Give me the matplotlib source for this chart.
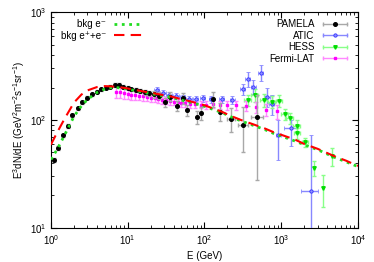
import matplotlib
matplotlib.use('Agg')
import matplotlib.pyplot as plt
from matplotlib.lines import Line2D
from matplotlib.legend_handler import HandlerLine2D, HandlerTuple

# background model curves
bkg_E = [1, 1.2, 1.5, 2, 2.5, 3, 4, 5, 6, 7, 8, 10, 14, 20, 28, 37, 50, 70, 100,
         170, 215, 300, 400, 600, 800, 1000, 1500, 2000, 3000, 5000, 7000, 10000]
bkg_e = [43, 53, 72, 108, 135, 155, 180, 193, 199, 200, 198, 193, 184, 176, 168, 162,
         153, 144, 134, 117, 108, 98, 91, 82, 75, 71, 64, 59, 53, 45, 41, 37]
bkg_ep = [59, 76, 102, 145, 172, 188, 202, 206, 205, 203, 201, 196, 187, 179, 171, 165,
          156, 147, 137, 119, 110, 100, 93, 84, 77, 73, 66, 60, 54, 46, 42, 37.5]

# PAMELA
pam_E = [1.1, 1.25, 1.45, 1.67, 1.86, 2.23, 2.56, 2.97, 3.45, 3.94, 4.48, 5.16, 5.93,
         6.8, 7.76, 8.74, 9.97, 11.2, 12.8, 14.7, 16.8, 19.1, 21.9, 25.5, 30.5, 36, 44,
         53, 60, 79, 91, 130, 162, 225, 318, 490]
pam_F = [42.6, 55, 72, 88, 111, 128, 146, 161, 173, 183, 192, 199, 203, 211, 211, 203,
         199, 193, 190, 185, 181, 177, 173, 168, 146, 165, 136, 160, 123, 106, 115, 155,
         119, 102, 89, 106]
pam_lo = [1.5, 2, 2.5, 3, 3.5, 4, 4.5, 5, 5, 6, 6, 6, 6, 7, 7, 7, 7, 7, 8, 8, 9, 10, 12,
          13, 13, 15, 14, 18, 14, 14, 16, 24, 22, 24, 38, 78]
pam_hi = [1.5, 2, 2.5, 3, 3.5, 4, 4.5, 5, 5, 6, 6, 6, 6, 7, 7, 7, 7, 7, 8, 8, 9, 10, 12,
          13, 13, 15, 14, 18, 14, 14, 16, 26, 24, 26, 44, 65]
pam_xerr = [0, 0, 0, 0, 0, 0, 0, 0, 0, 0, 0, 0, 0, 0, 0, 0, 0, 0, 0, 0, 0, 0, 0, 0, 0, 0,
            0, 0, 0, 0, 0, 0, 0, 25, 48, 90]

# ATIC
atic_E = [23.8, 29, 35, 43, 52, 63, 77, 95, 123, 168, 232, 318, 370, 435, 539, 660, 751,
          920, 1340, 2440]
atic_F = [191, 178, 172, 166, 162, 158, 156, 159, 155, 155, 153, 192, 238, 203, 271, 164,
          140, 73, 85, 22]
atic_lo = [12, 11, 11, 10, 10, 10, 10, 11, 11, 12, 13, 22, 35, 28, 43, 33, 28, 30, 28, 21.9]
atic_hi = [12, 11, 11, 10, 10, 10, 10, 11, 11, 12, 13, 24, 42, 30, 54, 36, 30, 27, 15, 51]
atic_xerr = [2, 2.5, 3, 3.5, 4, 5, 6, 7, 9, 12, 17, 24, 28, 33, 40, 50, 55, 70, 250, 600]

# HESS
hess_E = [370, 455, 594, 751, 938, 1110, 1290, 1590, 1620, 2050, 2680, 3480, 4600]
hess_F = [153, 170, 153, 148, 151, 113, 104, 88, 75, 62, 36, 23.3, 46]
hess_err = [18, 22, 20, 18, 20, 14, 12, 11, 9, 6, 5.5, 7.6, 8.5]
hess_xerr = [40, 50, 60, 75, 90, 110, 130, 160, 160, 200, 0, 0, 0]

# Fermi-LAT
fermi_E = [7.0, 7.9, 8.9, 10, 11.2, 12.6, 14.1, 15.9, 17.8, 20, 22.4, 25.1, 28.2, 31.6,
           35.5, 39.8, 44.7, 50.1, 56.2, 64.6, 75, 89, 105, 130, 160, 195, 260, 352, 475,
           630, 870]
fermi_F = [183, 180, 177, 175, 172, 170, 168, 166, 164, 161, 159, 157, 154, 152, 150, 148,
           146, 144, 143, 140, 140, 139, 139, 141, 139, 138, 137, 135, 131, 124, 120]
fermi_err = [22, 21, 20, 19, 18, 17, 16, 15, 14, 13, 13, 12, 12, 11, 11, 11, 11, 11, 11,
             11, 11, 11, 12, 12, 12, 13, 13, 14, 15, 16, 18]

plt.rcParams['font.family'] = ['Liberation Sans', 'DejaVu Sans']
plt.rcParams['mathtext.fontset'] = 'custom'
plt.rcParams['mathtext.rm'] = 'Liberation Sans'

fig = plt.figure(figsize=(3.74, 2.62), dpi=100)
ax = fig.add_axes([0.136, 0.130, 0.821, 0.824])

ax.errorbar(pam_E, pam_F, yerr=[pam_lo, pam_hi], xerr=pam_xerr, fmt='o', color='k',
            ms=2.6, ecolor='#a8a8a8', elinewidth=1, capsize=1.5, zorder=4)
ax.errorbar(atic_E, atic_F, yerr=[atic_lo, atic_hi], xerr=atic_xerr, fmt='o', ms=2.4,
            mfc='#9090ff', mec='#3030ff', mew=0.6, ecolor='#8888ff', elinewidth=1,
            capsize=1.5, zorder=3)
ax.errorbar(hess_E, hess_F, yerr=hess_err, xerr=hess_xerr, fmt='v', ms=2.5,
            color='#00dd00', ecolor='#88ff88', elinewidth=1, capsize=1.5, zorder=3)
ax.errorbar(fermi_E, fermi_F, yerr=fermi_err, fmt='s', ms=2, color='#ff00ff',
            ecolor='#ff88ff', elinewidth=1, capsize=1.5, zorder=3)

l1, = ax.plot(bkg_E, bkg_e, ':', color='#22dd22', lw=2, label='bkg e\u207b', zorder=5)
l2, = ax.plot(bkg_E, bkg_ep, '--', color='#ff0000', lw=1.5, dashes=(5, 3),
              label='bkg e\u207a+e\u207b', zorder=6)

ax.set_xscale('log')
ax.set_yscale('log')
ax.set_xlim(1, 1e4)
ax.set_ylim(10, 1000)
ax.tick_params(which='both', direction='in', top=True, right=True, labelsize=7)
ax.tick_params(which='major', length=4)
ax.tick_params(which='minor', length=2.2)
ax.set_xlabel('E (GeV)', fontsize=7, labelpad=3)
ax.set_ylabel('E$^3$dN/dE (GeV$^2$m$^{-2}$s$^{-1}$sr$^{-1}$)', fontsize=7, labelpad=2)

leg1 = ax.legend(handles=[l1, l2], loc='upper left', bbox_to_anchor=(0.02, 0.985),
                 frameon=False, fontsize=7, markerfirst=False, handlelength=3.0,
                 labelspacing=0.15, borderaxespad=0, handletextpad=0.8)
ax.add_artist(leg1)

# legend proxies: horizontal bar with caps and marker in the middle
styles = [('PAMELA', '#a8a8a8', dict(marker='o', color='k', ms=2.6)),
          ('ATIC', '#8888ff', dict(marker='o', mfc='#9090ff', mec='#3030ff', ms=2.4, mew=0.6)),
          ('HESS', '#88ff88', dict(marker='v', color='#00dd00', ms=2.5)),
          ('Fermi-LAT', '#ff88ff', dict(marker='s', color='#ff00ff', ms=2))]
handles = []
labels = []
hmap = {}
for name, ecol, mk in styles:
    bar = Line2D([], [], color=ecol, lw=1, marker='|', ms=3.5, mew=1)
    pt = Line2D([], [], ls='none', **mk)
    hmap[bar] = HandlerLine2D(numpoints=2)
    hmap[pt] = HandlerLine2D(numpoints=1)
    handles.append((bar, pt))
    labels.append(name)
hmap[tuple] = HandlerTuple(ndivide=1)
ax.legend(handles, labels, handler_map=hmap, loc='upper right',
          bbox_to_anchor=(0.985, 0.985), frameon=False, fontsize=7, markerfirst=False,
          handlelength=3.0, labelspacing=0.15, borderaxespad=0, handletextpad=0.6)

fig.savefig('out.png', dpi=100)
